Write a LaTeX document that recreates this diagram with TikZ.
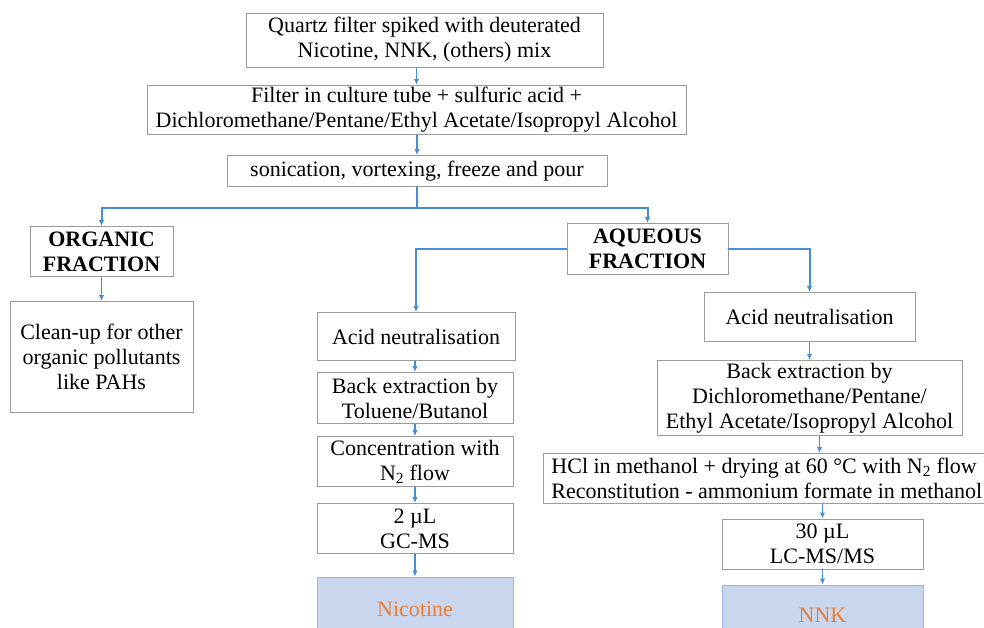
\documentclass[tikz,border=0pt]{standalone}
\usepackage{fontspec}
\setmainfont{Liberation Serif}
\usepackage{xcolor}
\usetikzlibrary{arrows.meta}

\definecolor{flowblue}{RGB}{70,142,214}
\definecolor{boxgray}{RGB}{155,155,155}
\definecolor{resfill}{RGB}{202,214,238}
\definecolor{resedge}{RGB}{150,184,228}
\definecolor{resorange}{RGB}{237,125,49}

\begin{document}
\begin{tikzpicture}[x=1pt,y=-1pt,line cap=round,
  box/.style={draw=boxgray,line width=0.9pt,fill=white,align=center,inner sep=2pt,
    font=\fontsize{22}{25}\selectfont},
  result/.style={box,draw=resedge,fill=resfill,text=resorange},
  arr/.style={draw=flowblue,line width=1.4pt,-{Latex[length=6pt,width=5.5pt]}},
  link/.style={draw=flowblue,line width=2pt}]

  % page, y runs downwards (pixels of the sheet)
  \useasboundingbox (0,0) rectangle (984,628);
  \clip (0,0) rectangle (984,628);

  % common trunk
  \node[box,minimum width=357pt,minimum height=54pt] (quartz) at (424.5,40)
    {Quartz filter spiked with deuterated\\Nicotine, NNK, (others) mix};
  \node[box,minimum width=539pt,minimum height=49pt] (filter) at (416.5,110)
    {Filter in culture tube + sulfuric acid +\\Dichloromethane/Pentane/Ethyl Acetate/Isopropyl Alcohol};
  \node[box,minimum width=380pt,minimum height=31pt] (sonic) at (417,171)
    {sonication, vortexing, freeze and pour};

  % organic branch
  \node[box,font=\fontsize{22}{25}\selectfont\bfseries,
    minimum width=143pt,minimum height=50pt] (organic) at (101.5,251.5)
    {ORGANIC\\FRACTION};
  \node[box,minimum width=183pt,minimum height=111pt] (cleanup) at (101.5,357)
    {Clean-up for other\\organic pollutants\\like PAHs};

  % aqueous branch
  \node[box,font=\fontsize{22}{25}\selectfont\bfseries,
    minimum width=161pt,minimum height=51pt] (aqueous) at (647.5,249)
    {AQUEOUS\\FRACTION};

  % nicotine line
  \node[box,minimum width=198pt,minimum height=48pt] (acidA) at (416,336.5)
    {Acid neutralisation};
  \node[box,minimum width=196pt,minimum height=51pt] (backA) at (415,398)
    {Back extraction by\\Toluene/Butanol};
  \node[box,minimum width=196pt,minimum height=50pt] (conc) at (415,461.5)
    {Concentration with\\N\textsubscript{2} flow};
  \node[box,minimum width=196pt,minimum height=50pt] (gcms) at (415,528.5)
    {2 µL\\GC-MS};
  \node[result,minimum width=196pt,minimum height=64pt] (nicotine) at (415,609)
    {Nicotine};

  % NNK line
  \node[box,minimum width=211pt,minimum height=49pt] (acidB) at (809.5,317)
    {Acid neutralisation};
  \node[box,minimum width=305pt,minimum height=75pt] (backB) at (809.5,398)
    {Back extraction by\\Dichloromethane/Pentane/\\Ethyl Acetate/Isopropyl Alcohol};
  \node[box,align=left,anchor=west,inner xsep=8pt,
    minimum width=439pt,minimum height=50pt] (hcl) at (543,478.5)
    {HCl in methanol + drying at 60 °C with N\textsubscript{2} flow\\
     Reconstitution - ammonium formate in methanol};
  \node[box,minimum width=201pt,minimum height=50pt] (lcms) at (822.5,544)
    {30 µL\\LC-MS/MS};
  \node[result,minimum width=201pt,minimum height=60pt] (nnk) at (822.5,615)
    {NNK};

  % straight steps
  \foreach \a/\b in {quartz/filter,filter/sonic,organic/cleanup,
      acidA/backA,backA/conc,conc/gcms,gcms/nicotine,
      acidB/backB,hcl/lcms,lcms/nnk}{
    \draw[arr] (\b.north |- \a.south) -- (\b.north);
  }
  \draw[arr] (backB.south) ++(10,0) coordinate (bb) -- (bb |- hcl.north);

  % split into the two fractions
  \draw[link] (sonic.south) -- ++(0,21) coordinate (split);
  \draw[arr,line width=2pt] (split) -| (organic.north);
  \draw[arr,line width=2pt] (split) -| (aqueous.north);
  \draw[arr,line width=2pt] (aqueous.west) -| (acidA.north);
  \draw[arr,line width=2pt] (aqueous.east) -| (acidB.north);
\end{tikzpicture}
\end{document}
